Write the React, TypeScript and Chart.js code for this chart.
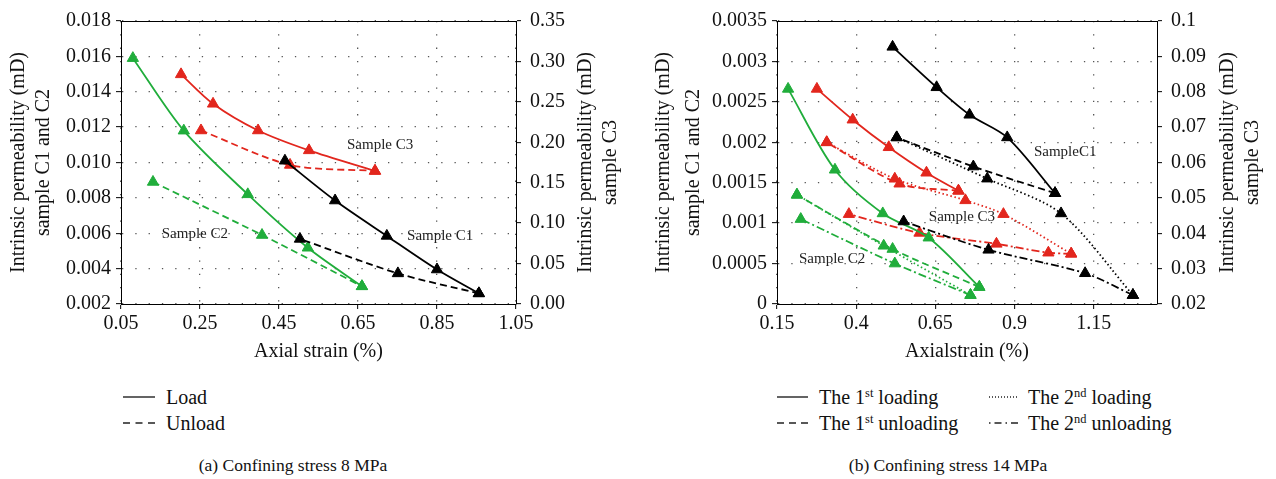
import React, { useEffect, useRef } from "react";
import { Chart, registerables } from "chart.js";
Chart.register(...registerables);

type Pt = [number, number];

const FONT = '"Liberation Serif", serif';
const RED = "#e2261d";
const GREEN = "#20ad3b";
const BLACK = "#000000";

const SOLID: number[] = [];
const DASHED = [7, 4];
const DOTTED = [1.5, 2.6];
const DASHDOT = [8, 3, 2, 3];

const aXTicks = [0.05, 0.25, 0.45, 0.65, 0.85, 1.05];
const aXLabels = ["0.05", "0.25", "0.45", "0.65", "0.85", "1.05"];
const aYTicks = [0.002, 0.004, 0.006, 0.008, 0.01, 0.012, 0.014, 0.016, 0.018];
const aYLabels = ["0.002", "0.004", "0.006", "0.008", "0.010", "0.012", "0.014", "0.016", "0.018"];
const aY1Ticks = [0, 0.05, 0.1, 0.15, 0.2, 0.25, 0.3, 0.35];
const aY1Labels = ["0.00", "0.05", "0.10", "0.15", "0.20", "0.25", "0.30", "0.35"];

const aC1Load: Pt[] = [[0.465, 0.0101], [0.592, 0.00785], [0.723, 0.00585], [0.85, 0.00395], [0.956, 0.0026]];
const aC1Unload: Pt[] = [[0.956, 0.0026], [0.751, 0.00373], [0.503, 0.00568]];
const aC2Load: Pt[] = [[0.08, 0.0159], [0.209, 0.0118], [0.371, 0.0082], [0.523, 0.00518], [0.66, 0.003]];
const aC2Unload: Pt[] = [[0.131, 0.0089], [0.407, 0.0059], [0.66, 0.003]];
const aC3Load: Pt[] = [[0.202, 0.284], [0.283, 0.2476], [0.397, 0.2146], [0.526, 0.19], [0.693, 0.1646]];
const aC3Unload: Pt[] = [[0.2525, 0.2146], [0.478, 0.172], [0.693, 0.1646]];

const aNotes = [
  { text: "Sample C3", x: 0.706, y: 0.011 },
  { text: "Sample C1", x: 0.858, y: 0.00583 },
  { text: "Sample C2", x: 0.237, y: 0.00594 },
];

const bXTicks = [0.15, 0.4, 0.65, 0.9, 1.15];
const bXLabels = ["0.15", "0.4", "0.65", "0.9", "1.15"];
const bYTicks = [0, 0.0005, 0.001, 0.0015, 0.002, 0.0025, 0.003, 0.0035];
const bYLabels = ["0", "0.0005", "0.001", "0.0015", "0.002", "0.0025", "0.003", "0.0035"];
const bY1Ticks = [0.02, 0.03, 0.04, 0.05, 0.06, 0.07, 0.08, 0.09, 0.1];
const bY1Labels = ["0.02", "0.03", "0.04", "0.05", "0.06", "0.07", "0.08", "0.09", "0.1"];

const bC1Load1: Pt[] = [[0.515, 0.00318], [0.654, 0.00268], [0.758, 0.00234], [0.877, 0.00206], [1.028, 0.00137]];
const bC1Unload1: Pt[] = [[1.028, 0.00137], [0.77, 0.0017], [0.528, 0.00206]];
const bC1Load2: Pt[] = [[0.528, 0.00206], [0.814, 0.00155], [1.047, 0.00112], [1.274, 0.00011]];
const bC1Unload2: Pt[] = [[1.274, 0.00011], [1.123, 0.00038], [0.818, 0.00067], [0.55, 0.00102]];

const bC2Load1: Pt[] = [[0.185, 0.00266], [0.333, 0.00166], [0.484, 0.00112], [0.629, 0.00082], [0.789, 0.00021]];
const bC2Unload1: Pt[] = [[0.789, 0.00021], [0.515, 0.00068], [0.213, 0.00135]];
const bC2Load2: Pt[] = [[0.213, 0.00135], [0.487, 0.00072], [0.761, 0.00011]];
const bC2Unload2: Pt[] = [[0.761, 0.00011], [0.522, 0.0005], [0.225, 0.00105]];

const bC3Load1: Pt[] = [[0.276, 0.0808], [0.389, 0.0721], [0.503, 0.0643], [0.622, 0.0571], [0.723, 0.052]];
const bC3Unload1: Pt[] = [[0.723, 0.052], [0.537, 0.054], [0.307, 0.0657]];
const bC3Load2: Pt[] = [[0.307, 0.0657], [0.522, 0.0554], [0.745, 0.0493], [0.865, 0.0454], [1.079, 0.0342]];
const bC3Unload2: Pt[] = [[1.079, 0.0342], [1.007, 0.0345], [0.843, 0.037], [0.6, 0.0401], [0.377, 0.0454]];

const bNotes = [
  { text: "SampleC1", x: 1.06, y: 0.00188 },
  { text: "Sample C3", x: 0.734, y: 0.00107 },
  { text: "Sample C2", x: 0.324, y: 0.00056 },
];

function ds(pts: Pt[], color: string, dash: number[], axis = "y") {
  return {
    data: pts.map(([x, y]) => ({ x, y })),
    borderColor: color,
    backgroundColor: color,
    borderWidth: 1.8,
    borderDash: dash,
    pointStyle: "triangle",
    pointRadius: 6.5,
    pointBorderWidth: 1,
    pointBackgroundColor: color,
    pointBorderColor: color,
    tension: 0.3,
    yAxisID: axis,
    clip: false,
    fill: false,
  };
}

interface Spec {
  width: number; height: number; leftW: number; rightW: number;
  xMin: number; xMax: number; xTicks: number[]; xLabels: string[];
  yMin: number; yMax: number; yTicks: number[]; yLabels: string[];
  y1Min: number; y1Max: number; y1Ticks: number[]; y1Labels: string[];
  xTitle: string; leftTitle: string[]; leftTitleX: number[];
  rightTitle: string[]; rightTitleX: number[];
  notes: { text: string; x: number; y: number }[];
  datasets: any[];
}

const GRID = {
  color: "#555",
  lineWidth: 1.3,
  tickLength: 5,
  tickColor: "#000",
  tickWidth: 1,
  tickBorderDash: [],
};
const BORDER = { color: "#000", width: 1, dash: [1.3, 12] };

function makeConfig(s: Spec): any {
  const decor = {
    id: "decor",
    afterDraw(chart: any) {
      const { ctx, chartArea: ca } = chart;
      ctx.save();
      ctx.strokeStyle = "#000";
      ctx.lineWidth = 1;
      ctx.setLineDash([]);
      ctx.beginPath();
      ctx.moveTo(ca.left, Math.round(ca.top) + 0.5);
      ctx.lineTo(ca.right, Math.round(ca.top) + 0.5);
      ctx.stroke();
      ctx.fillStyle = "#111";
      ctx.textAlign = "center";
      ctx.textBaseline = "middle";
      ctx.font = `20px ${FONT}`;
      ctx.fillText(s.xTitle, (ca.left + ca.right) / 2, ca.bottom + 48);
      const cy = (ca.top + ca.bottom) / 2;
      const drawV = (t: string, x: number) => {
        ctx.save();
        ctx.translate(x, cy);
        ctx.rotate(-Math.PI / 2);
        ctx.fillText(t, 0, 0);
        ctx.restore();
      };
      s.leftTitle.forEach((t, i) => drawV(t, ca.left + s.leftTitleX[i]));
      s.rightTitle.forEach((t, i) => drawV(t, ca.right + s.rightTitleX[i]));
      ctx.font = `15px ${FONT}`;
      ctx.fillStyle = "#222";
      const xs = chart.scales.x;
      const ys = chart.scales.y;
      s.notes.forEach((n) => ctx.fillText(n.text, xs.getPixelForValue(n.x), ys.getPixelForValue(n.y)));
      ctx.restore();
    },
  };
  const tickFont = { family: FONT, size: 20 };
  return {
    type: "line",
    data: { datasets: s.datasets },
    plugins: [decor],
    options: {
      animation: false,
      responsive: false,
      devicePixelRatio: 1,
      layout: { padding: { top: 16, left: 0, right: 0, bottom: 0 } },
      plugins: { legend: { display: false }, tooltip: { enabled: false }, title: { display: false } },
      scales: {
        x: {
          type: "linear", position: "bottom", min: s.xMin, max: s.xMax,
          afterBuildTicks: (sc: any) => { sc.ticks = s.xTicks.map((v) => ({ value: v })); },
          afterFit: (sc: any) => { sc.height = s.height - 304; },
          ticks: { callback: (_v: any, i: number) => s.xLabels[i], color: "#111", font: tickFont, padding: 3, maxRotation: 0, autoSkip: false },
          grid: GRID,
          border: BORDER,
        },
        y: {
          type: "linear", position: "left", min: s.yMin, max: s.yMax,
          afterBuildTicks: (sc: any) => { sc.ticks = s.yTicks.map((v) => ({ value: v })); },
          afterFit: (sc: any) => { sc.width = s.leftW; },
          ticks: { callback: (_v: any, i: number) => s.yLabels[i], color: "#111", font: tickFont, padding: 5, autoSkip: false },
          grid: GRID,
          border: BORDER,
        },
        y1: {
          type: "linear", position: "right", min: s.y1Min, max: s.y1Max,
          afterBuildTicks: (sc: any) => { sc.ticks = s.y1Ticks.map((v) => ({ value: v })); },
          afterFit: (sc: any) => { sc.width = s.rightW; },
          ticks: { callback: (_v: any, i: number) => s.y1Labels[i], color: "#111", font: tickFont, padding: 9, autoSkip: false },
          grid: { ...GRID, drawOnChartArea: false },
          border: BORDER,
        },
      },
    },
  };
}

const specA: Spec = {
  width: 640, height: 370, leftW: 121, rightW: 124,
  xMin: 0.05, xMax: 1.05, xTicks: aXTicks, xLabels: aXLabels,
  yMin: 0.002, yMax: 0.018, yTicks: aYTicks, yLabels: aYLabels,
  y1Min: 0, y1Max: 0.35, y1Ticks: aY1Ticks, y1Labels: aY1Labels,
  xTitle: "Axial strain (%)",
  leftTitle: ["Intrinsic permeability (mD)", "sample C1 and C2"], leftTitleX: [-102, -77],
  rightTitle: ["Intrinsic permeability (mD)", "sample C3"], rightTitleX: [70, 95],
  notes: aNotes,
  datasets: [
    ds(aC1Load, BLACK, SOLID), ds(aC1Unload, BLACK, DASHED),
    ds(aC2Load, GREEN, SOLID), ds(aC2Unload, GREEN, DASHED),
    ds(aC3Load, RED, SOLID, "y1"), ds(aC3Unload, RED, DASHED, "y1"),
  ],
};

const specB: Spec = {
  width: 636, height: 370, leftW: 137, rightW: 119,
  xMin: 0.15, xMax: 1.35, xTicks: bXTicks, xLabels: bXLabels,
  yMin: 0, yMax: 0.0035, yTicks: bYTicks, yLabels: bYLabels,
  y1Min: 0.02, y1Max: 0.1, y1Ticks: bY1Ticks, y1Labels: bY1Labels,
  xTitle: "Axialstrain (%)",
  leftTitle: ["Intrinsic permeability (mD)", "sample C1 and C2"], leftTitleX: [-113, -83],
  rightTitle: ["Intrinsic permeability (mD)", "sample C3"], rightTitleX: [71, 96],
  notes: bNotes,
  datasets: [
    ds(bC1Load1, BLACK, SOLID), ds(bC1Unload1, BLACK, DASHED), ds(bC1Load2, BLACK, DOTTED), ds(bC1Unload2, BLACK, DASHDOT),
    ds(bC2Load1, GREEN, SOLID), ds(bC2Unload1, GREEN, DASHED), ds(bC2Load2, GREEN, DOTTED), ds(bC2Unload2, GREEN, DASHDOT),
    ds(bC3Load1, RED, SOLID, "y1"), ds(bC3Unload1, RED, DASHED, "y1"), ds(bC3Load2, RED, DOTTED, "y1"), ds(bC3Unload2, RED, DASHDOT, "y1"),
  ],
};

function ChartCanvas({ spec, left }: { spec: Spec; left: number }) {
  const ref = useRef<HTMLCanvasElement | null>(null);
  useEffect(() => {
    if (!ref.current) return;
    const c = new Chart(ref.current, makeConfig(spec));
    return () => c.destroy();
  }, [spec]);
  return (
    <canvas ref={ref} width={spec.width} height={spec.height}
      style={{ position: "absolute", left, top: 0, width: spec.width, height: spec.height }} />
  );
}

function LegendLine({ x, y, w, dash }: { x: number; y: number; w: number; dash?: string }) {
  return (
    <svg style={{ position: "absolute", left: x, top: y - 5 }} width={w} height={10}>
      <line x1={0} y1={5} x2={w} y2={5} stroke="#222" strokeWidth={1.4} strokeDasharray={dash} />
    </svg>
  );
}

function Txt({ x, y, children, size = 20 }: { x: number; y: number; children: any; size?: number }) {
  return (
    <div style={{ position: "absolute", left: x, top: y - 12, fontSize: size, lineHeight: "24px", whiteSpace: "nowrap", color: "#111" }}>
      {children}
    </div>
  );
}

const supStyle: any = { fontSize: "0.62em", position: "relative", top: "-0.55em", lineHeight: 0 };

function Caption({ cx, y, text }: { cx: number; y: number; text: string }) {
  return (
    <div style={{ position: "absolute", left: cx - 200, width: 400, top: y - 11, textAlign: "center", fontSize: 17.5, lineHeight: "22px", color: "#111", whiteSpace: "nowrap" }}>
      {text}
    </div>
  );
}

export default function App() {
  return (
    <div style={{ position: "absolute", left: 0, top: 0, width: 1276, height: 479, background: "#fff", fontFamily: FONT, overflow: "hidden" }}>
      <ChartCanvas spec={specA} left={0} />
      <ChartCanvas spec={specB} left={640} />

      <LegendLine x={123} y={397} w={32} />
      <Txt x={166} y={397}>Load</Txt>
      <LegendLine x={123} y={423} w={32} dash="7 5.5" />
      <Txt x={166} y={423}>Unload</Txt>

      <LegendLine x={777} y={397} w={31} />
      <Txt x={819} y={397}>The 1<span style={supStyle}>st</span> loading</Txt>
      <LegendLine x={989} y={397} w={29} dash="1 2" />
      <Txt x={1028} y={397}>The 2<span style={supStyle}>nd</span> loading</Txt>
      <LegendLine x={777} y={423} w={31} dash="7 5" />
      <Txt x={819} y={423}>The 1<span style={supStyle}>st</span> unloading</Txt>
      <LegendLine x={989} y={423} w={31} dash="1.5 4 7 4" />
      <Txt x={1028} y={423}>The 2<span style={supStyle}>nd</span> unloading</Txt>

      <Caption cx={293} y={465} text="(a) Confining stress 8 MPa" />
      <Caption cx={948} y={465} text="(b) Confining stress 14 MPa" />
    </div>
  );
}
